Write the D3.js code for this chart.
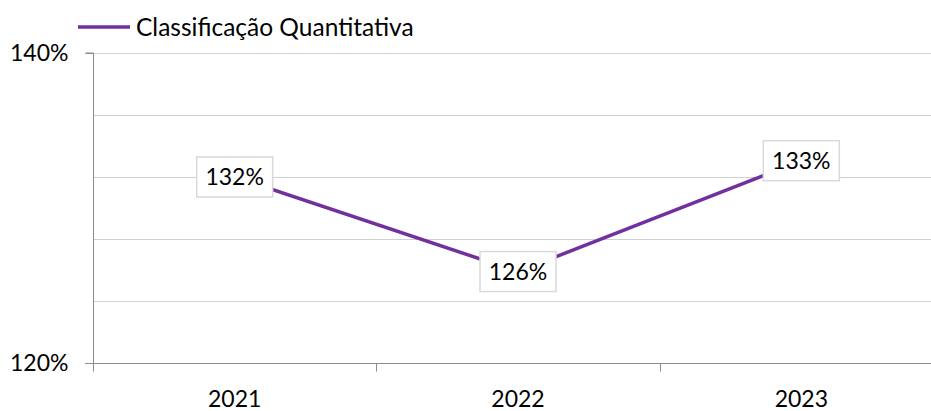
<!DOCTYPE html>
<html>
<head>
<meta charset="utf-8">
<script src="https://cdn.jsdelivr.net/npm/d3@7"></script>
<style>
  body { margin: 0; background: #fff; }
  svg { display: block; font-family: Lato, "Open Sans", sans-serif; }
</style>
</head>
<body>
<svg></svg>
<script>
const width = 931;
const height = 411;

// data
const categories = ["2021", "2022", "2023"];
const values = [1.320, 1.259, 1.3305];
const labels = ["132%", "126%", "133%"];
const seriesName = "Classificação Quantitativa";
const yTickValues = [1.20, 1.40];
const gridValues = [1.24, 1.28, 1.32, 1.36, 1.40];

const color = "#7030A0";
const margin = { left: 93, right: -12, top: 53, bottom: 48 };

const svg = d3.select("svg")
    .attr("width", width)
    .attr("height", height);

const x = d3.scaleBand()
    .domain(categories)
    .range([margin.left, width - margin.right]);

const y = d3.scaleLinear()
    .domain([1.20, 1.40])
    .range([height - margin.bottom, margin.top]);

// gridlines
svg.append("g")
    .selectAll("line")
    .data(gridValues)
    .enter().append("line")
    .attr("x1", margin.left)
    .attr("x2", width)
    .attr("y1", d => Math.round(y(d)) + 0.5)
    .attr("y2", d => Math.round(y(d)) + 0.5)
    .attr("stroke", "#d0d0d0")
    .attr("stroke-width", 1);

// y axis
const yAxis = svg.append("g")
    .attr("transform", `translate(${margin.left + 0.5},0)`)
    .call(d3.axisLeft(y).tickValues(yTickValues).tickFormat(d3.format(".0%")).tickSize(8).tickPadding(17));
yAxis.select(".domain").attr("stroke", "#8c8c8c").attr("d", `M-8,${y(1.40)}H0V${y(1.20)}`);
yAxis.selectAll(".tick line").attr("stroke", "#8c8c8c");
yAxis.selectAll(".tick text")
    .attr("font-size", 23)
    .attr("fill", "#000")
    .style("font-family", "Lato, 'Open Sans', sans-serif");

// x axis
const xAxis = svg.append("g")
    .attr("transform", `translate(0,${Math.round(y(1.20)) + 0.5})`);
xAxis.append("line")
    .attr("x1", margin.left - 8)
    .attr("x2", width)
    .attr("stroke", "#8c8c8c");
xAxis.selectAll(".cat-tick")
    .data(categories)
    .enter().append("line")
    .attr("class", "cat-tick")
    .attr("x1", d => Math.round(x(d)) + 0.5)
    .attr("x2", d => Math.round(x(d)) + 0.5)
    .attr("y1", 0)
    .attr("y2", 8)
    .attr("stroke", "#8c8c8c");
xAxis.selectAll("text")
    .data(categories)
    .enter().append("text")
    .attr("x", d => x(d) + x.bandwidth() / 2)
    .attr("y", 43)
    .attr("text-anchor", "middle")
    .attr("font-size", 23)
    .text(d => d);

// line
const line = d3.line()
    .x((d, i) => x(categories[i]) + x.bandwidth() / 2)
    .y(d => y(d));

svg.append("path")
    .datum(values)
    .attr("fill", "none")
    .attr("stroke", color)
    .attr("stroke-width", 3.5)
    .attr("d", line);

// data labels
const lbl = svg.append("g")
    .selectAll("g")
    .data(values)
    .enter().append("g")
    .attr("transform", (d, i) => `translate(${x(categories[i]) + x.bandwidth() / 2},${y(d)})`);
lbl.append("rect")
    .attr("x", -38)
    .attr("y", -20)
    .attr("width", 76)
    .attr("height", 40)
    .attr("fill", "#fff")
    .attr("stroke", "#d9d9d9")
    .attr("stroke-width", 1.5);
lbl.append("text")
    .attr("text-anchor", "middle")
    .attr("dy", "0.35em")
    .attr("font-size", 23)
    .text((d, i) => labels[i]);

// legend
const legend = svg.append("g").attr("transform", "translate(78,27)");
legend.append("line")
    .attr("x1", 0)
    .attr("x2", 52)
    .attr("stroke", color)
    .attr("stroke-width", 3.5);
legend.append("text")
    .attr("x", 58)
    .attr("dy", "0.35em")
    .attr("font-size", 24.5)
    .text(seriesName);
</script>
</body>
</html>
